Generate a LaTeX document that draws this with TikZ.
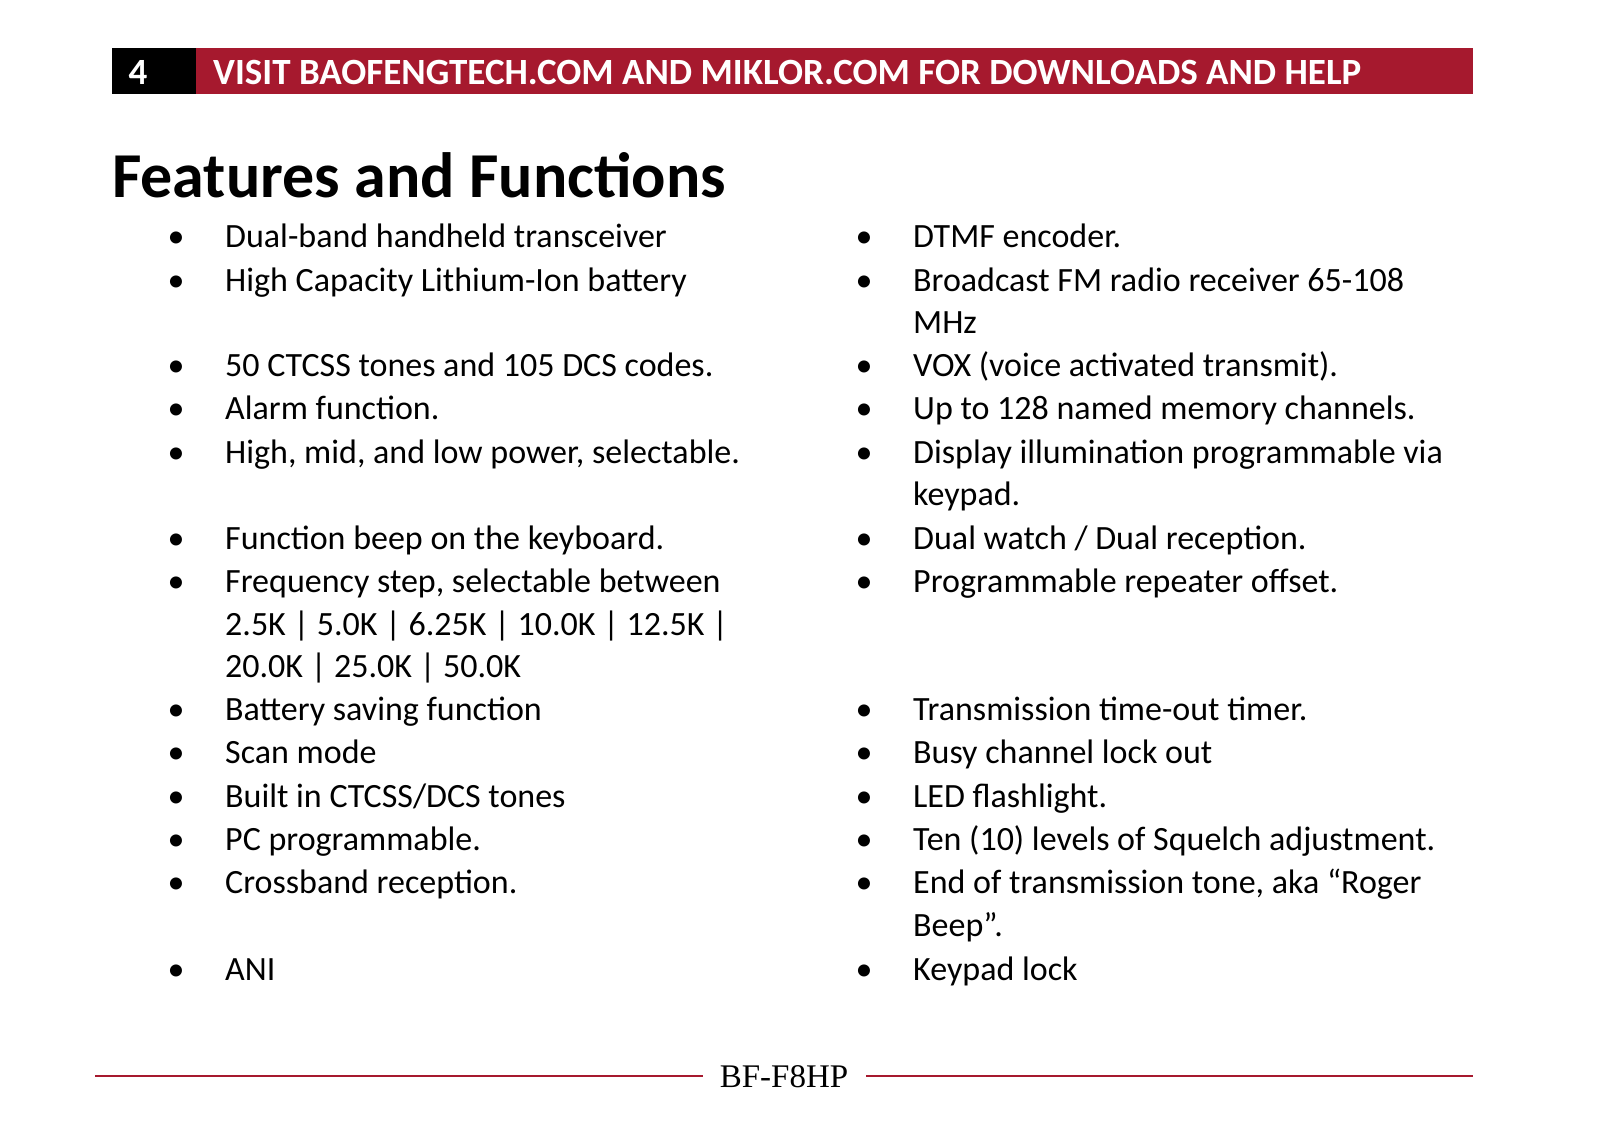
\documentclass[tikz,border=0pt]{standalone}
\usepackage{fontspec}
\setmainfont{Carlito}
\newfontfamily\serifbf{Liberation Serif}
\definecolor{bfred}{HTML}{A6192E}
\begin{document}
\begin{tikzpicture}[x=1pt,y=-1pt,
  txt/.style={anchor=base west,inner sep=0pt,font=\fontsize{34}{40}\selectfont},
  bul/.style={anchor=base,inner sep=0pt,font=\fontsize{34}{40}\selectfont}]
\fill[black] (112,48) rectangle (196,94);
\fill[bfred] (196,48) rectangle (1473,94);
\node[anchor=base,inner sep=0pt,text=white,font=\bfseries\fontsize{37}{40}\selectfont] (num) at (138,84) {4};
\node[anchor=base west,inner sep=0pt,text=white,font=\bfseries\fontsize{37}{40}\selectfont] (hdr) at (213,84) {VISIT BAOFENGTECH.COM AND MIKLOR.COM FOR DOWNLOADS AND HELP};
\node[anchor=base west,inner sep=0pt,font=\bfseries\fontsize{64}{70}\selectfont] (title) at (112,197) {Features and Functions};
\foreach \y/\t [count=\i] in {236/{Dual-band handheld transceiver},280/{High Capacity Lithium-Ion battery},365/{50 CTCSS tones and 105 DCS codes.},408/{Alarm function.},452/{High, mid, and low power, selectable.},538/{Function beep on the keyboard.},581/{Frequency step, selectable between},709/{Battery saving function},752/{Scan mode},796/{Built in CTCSS/DCS tones},839/{PC programmable.},882/{Crossband reception.},969/{ANI}}{
  \node[bul] (lb\i) at (176,\y+11) {•};
  \node[txt] (lt\i) at (225,\y+11) {\t};
}
\node[txt] (lf1) at (225,635) {2.5K | 5.0K | 6.25K | 10.0K | 12.5K |};
\node[txt] (lf2) at (225,677) {20.0K | 25.0K | 50.0K};
\foreach \y/\t [count=\i] in {236/{DTMF encoder.},280/{Broadcast FM radio receiver 65-108},365/{VOX (voice activated transmit).},408/{Up to 128 named memory channels.},452/{Display illumination programmable via},538/{Dual watch / Dual reception.},581/{Programmable repeater offset.},709/{Transmission time-out timer.},752/{Busy channel lock out},796/{LED flashlight.},839/{Ten (10) levels of Squelch adjustment.},882/{End of transmission tone, aka “Roger},969/{Keypad lock}}{
  \node[bul] (rb\i) at (864,\y+11) {•};
  \node[txt] (rt\i) at (913,\y+11) {\t};
}
\node[txt] (rc1) at (913,333) {MHz};
\node[txt] (rc2) at (913,505) {keypad.};
\node[txt] (rc3) at (913,936) {Beep”.};
\node[anchor=base,inner sep=0pt,font=\serifbf\fontsize{33}{38}\selectfont] (foot) at (784,1087) {BF-F8HP};
\draw[bfred,line width=1.5pt] (95,1076) -- (703,1076);
\draw[bfred,line width=1.5pt] (866,1076) -- (1473,1076);
\pgfresetboundingbox
\path[use as bounding box] (0,0) rectangle (1600,1143);
\end{tikzpicture}
\end{document}
